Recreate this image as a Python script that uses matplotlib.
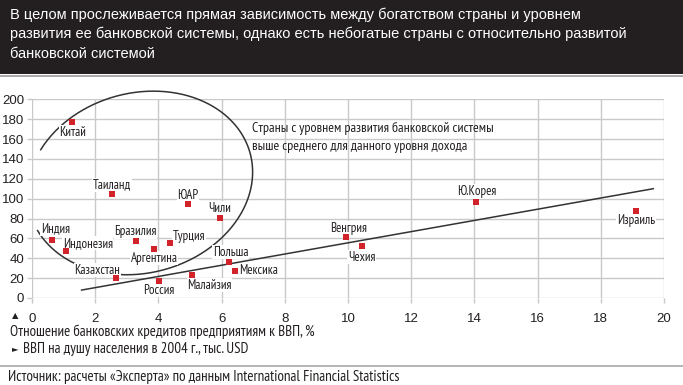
import numpy as np
import matplotlib
matplotlib.use("Agg")
import matplotlib.pyplot as plt
from matplotlib.patches import Rectangle
from matplotlib.lines import Line2D
from matplotlib import font_manager as fm

# ---------------- data ----------------
countries = ["Китай", "Таиланд", "ЮАР", "Чили", "Индия", "Индонезия", "Бразилия",
             "Аргентина", "Турция", "Казахстан", "Россия", "Малайзия", "Польша",
             "Мексика", "Венгрия", "Чехия", "Ю.Корея", "Израиль"]
gdp_per_capita = [1.26, 2.54, 4.93, 5.95, 0.62, 1.07, 3.28, 3.87, 4.37, 2.67, 4.01,
                  5.07, 6.22, 6.41, 9.94, 10.43, 14.05, 19.11]
credit_to_gdp = [177, 105, 95, 81, 58, 47, 57, 49, 55, 20, 17, 23, 36, 27, 61, 52, 97, 88]
trend_x = [1.57, 19.66]
trend_y = [8, 110]
x_ticks = [0, 2, 4, 6, 8, 10, 12, 14, 16, 18, 20]
y_ticks = [0, 20, 40, 60, 80, 100, 120, 140, 160, 180, 200]

title_lines = ["В целом прослеживается прямая зависимость между богатством страны и уровнем",
               "развития ее банковской системы, однако есть небогатые страны с относительно развитой",
               "банковской системой"]
note_lines = ["Страны с уровнем развития банковской системы",
              "выше среднего для данного уровня дохода"]
y_axis_label = "Отношение банковских кредитов предприятиям к ВВП, %"
x_axis_label = "ВВП на душу населения в 2004 г., тыс. USD"
source_text = "Источник: расчеты «Эксперта» по данным International Financial Statistics"

# ---------------- styles (label placement in pixels) ----------------
label_style = {
    "Китай": (1, -10, "center"), "Таиланд": (0, 9, "center"), "ЮАР": (0, 8, "center"),
    "Чили": (0, 9, "center"), "Индия": (4, 12, "center"), "Индонезия": (-3, 8, "left"),
    "Бразилия": (0, 10, "center"), "Аргентина": (0, -9, "center"), "Турция": (3, 7, "left"),
    "Казахстан": (4, 8, "right"), "Россия": (0, -9, "center"), "Малайзия": (-5, -10, "left"),
    "Польша": (2, 10, "center"), "Мексика": (5, 1, "left"), "Венгрия": (2, 9, "center"),
    "Чехия": (0, -11, "center"), "Ю.Корея": (1, 10, "center"), "Израиль": (0, -10, "center"),
}

avail = {f.name for f in fm.fontManager.ttflist}
COND = next((n for n in ["PT Sans Narrow", "Roboto Condensed", "Arial Narrow",
                         "Liberation Sans Narrow", "Fira Sans Condensed",
                         "IBM Plex Sans Condensed", "Open Sans Condensed"] if n in avail),
            "Liberation Sans")
COND_F = [COND, "DejaVu Sans"]
REG_F = ["Liberation Sans", "DejaVu Sans"]
plt.rcParams["font.family"] = COND_F
DARK = "#231f20"
GRID = "#c9c9c9"
RED = "#d2232a"

W, H = 683, 385
fig = plt.figure(figsize=(W / 100, H / 100), dpi=100)


def fx(px):
    return px / W


def fy(py):
    return 1 - py / H


# header
fig.patches.append(Rectangle((0, fy(74)), 1, 74 / H, transform=fig.transFigure,
                             facecolor=DARK, edgecolor="none", zorder=0))
fig.add_artist(Line2D([0, 1], [fy(75.5), fy(75.5)], color="#9a9a9a", lw=1.2))
for i, ln in enumerate(title_lines):
    fig.text(fx(10), fy(14.5 + 19.5 * i), ln, color="white", fontsize=10.5,
             va="center", ha="left", family=REG_F)

# axes
ax = fig.add_axes([fx(32), 87 / H, 632 / W, 198.7 / H])
ax.set_xlim(0, 20)
ax.set_ylim(0, 200)
for s in ax.spines.values():
    s.set_visible(False)
ax.set_xticks(x_ticks)
ax.set_yticks(y_ticks)
ax.grid(True, color=GRID, lw=1.0, zorder=0)
ax.tick_params(axis="both", colors=GRID, length=3.5, width=1.0, labelcolor=DARK,
               labelsize=9.5)
ax.tick_params(axis="x", pad=7)
ax.tick_params(axis="y", pad=2)
for lab in ax.get_xticklabels() + ax.get_yticklabels():
    lab.set_family(REG_F)

# trend line
ax.plot(trend_x, trend_y, color="#333333", lw=1.1, zorder=2)

# ellipse annotation (parameters in pixels around a data-space centre)
fig.canvas.draw()
ppx = ax.bbox.width / 20.0
ppy = ax.bbox.height / 200.0
cx, cy = 3.42, 115.8
a_px, b_px, theta = 114.0, 90.0, np.deg2rad(15)
t = np.deg2rad(np.linspace(192.5, 500, 400))
ex = cx + (a_px * np.cos(t) * np.cos(theta) - b_px * np.sin(t) * np.sin(theta)) / ppx
ey = cy + (a_px * np.cos(t) * np.sin(theta) + b_px * np.sin(t) * np.cos(theta)) / ppy
ax.plot(ex, ey, color="#333333", lw=1.1, zorder=2, clip_on=False)

# points
ax.scatter(gdp_per_capita, credit_to_gdp, marker="s", s=22, color=RED, zorder=4,
           linewidths=0)
for name, x, y in zip(countries, gdp_per_capita, credit_to_gdp):
    dx, dy, ha = label_style[name]
    ax.annotate(name, (x, y), xytext=(dx, dy), textcoords="offset pixels",
                ha=ha, va="center", fontsize=9.3, color=DARK, zorder=3,
                bbox=dict(boxstyle="square,pad=0.05", fc="white", ec="none"))

# note text
for i, ln in enumerate(note_lines):
    fig.text(fx(252), fy(128.5 + 18 * i), ln, fontsize=10, color=DARK,
             va="center", ha="left")

# bottom legend
fig.text(fx(15), fy(315.5), "▲", fontsize=6, color=DARK, va="center", ha="center",
         family=["DejaVu Sans"])
fig.text(fx(10), fy(331.5), y_axis_label, fontsize=10.8, color=DARK, va="center", ha="left")
fig.text(fx(15), fy(348.5), "►", fontsize=6, color=DARK, va="center", ha="center",
         family=["DejaVu Sans"])
fig.text(fx(23), fy(348.5), x_axis_label, fontsize=10.8, color=DARK, va="center", ha="left")
fig.add_artist(Line2D([0, 1], [fy(366), fy(366)], color="#a8a8a8", lw=1.2))
fig.text(fx(8), fy(377), source_text, fontsize=10.8, color=DARK, va="center", ha="left")

fig.savefig("out.png", dpi=100)
